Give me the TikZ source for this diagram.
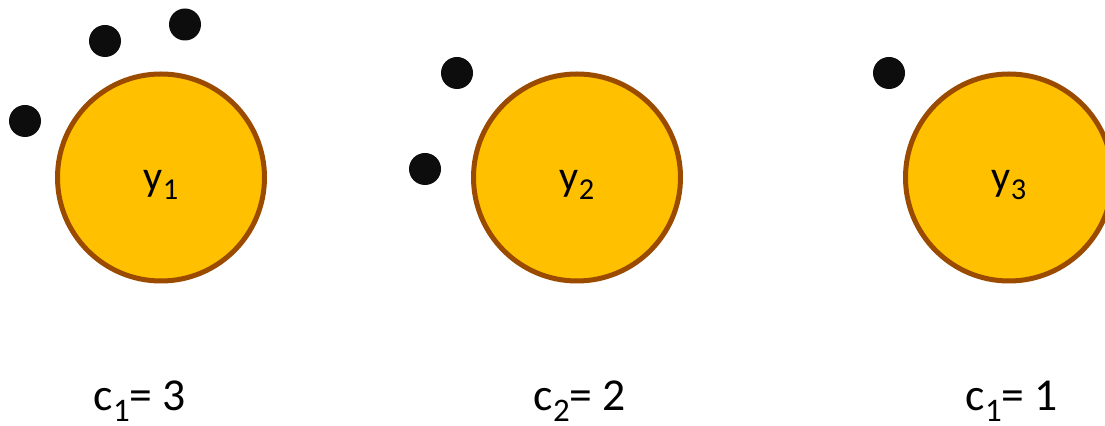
\documentclass[tikz,border=0pt]{standalone}
\usepackage{fontspec}
\setmainfont{Carlito}
\usepackage{xcolor}
\usepackage{tikz}
\usetikzlibrary{positioning}

\definecolor{goldfill}{HTML}{FFC000}
\definecolor{goldedge}{HTML}{9A4B00}

% lowered index, as in the slide
\newcommand{\lowidx}[1]{\raisebox{-0.22em}{\scalebox{0.72}{#1}}}

\tikzset{
    centroid/.style={circle, draw=goldedge, fill=goldfill, line width=0.1cm,
        inner sep=0pt, minimum size=4.14cm, text height=0.7cm, text depth=0.18cm,
        font=\fontsize{24}{29}\selectfont},
    point/.style={circle, fill=black!95, inner sep=0pt, minimum size=0.64cm},
    count/.style={anchor=base, inner sep=0pt, font=\fontsize{26}{31}\selectfont}
}

\begin{document}
\begin{tikzpicture}
        \path[use as bounding box, clip] (0,0) rectangle (22.1,8.52);

        % Centroids
        \node[centroid] (y1) at (3.22,4.97) {y\lowidx{1}};
        \node[centroid] (y2) at (11.54,4.97) {y\lowidx{2}};
        \node[centroid] (y3) at (20.18,4.97) {y\lowidx{3}};

        % Points of cluster 1
        \node[point] (p11) at (2.10,7.70) {};
        \node[point] (p12) at (3.70,8.03) {};
        \node[point] (p13) at (0.50,6.10) {};

        % Points of cluster 2
        \node[point] (p21) at (9.14,7.06) {};
        \node[point] (p22) at (8.50,5.14) {};

        % Points of cluster 3
        \node[point] (p31) at (17.78,7.06) {};

        % Counts
        \node[count] (c1) at (2.80,0.30) {c\lowidx{1}= 3};
        \node[count] (c2) at (11.60,0.30) {c\lowidx{2}= 2};
        \node[count] (c3) at (20.24,0.30) {c\lowidx{1}= 1};

    \end{tikzpicture}
\end{document}
